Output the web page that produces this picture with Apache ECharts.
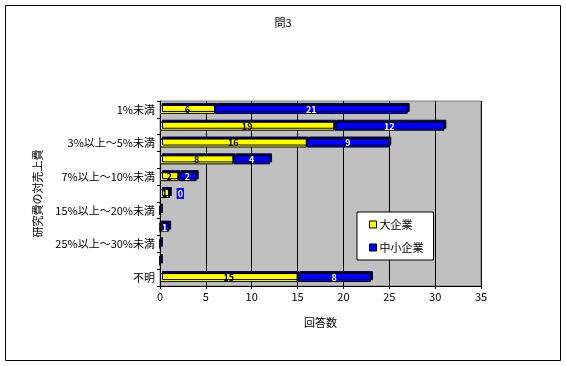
<!DOCTYPE html>
<html><head><meta charset="utf-8">
<script src="https://cdn.jsdelivr.net/npm/echarts@6/dist/echarts.min.js"></script>
<style>html,body{margin:0;padding:0;background:#fff}#c{width:566px;height:366px}</style>
</head><body><div id="c"></div>
<script>
var categories = ['1%未満','1%以上～3%未満','3%以上～5%未満','5%以上～7%未満','7%以上～10%未満','10%以上～15%未満','15%以上～20%未満','20%以上～25%未満','25%以上～30%未満','30%以上','不明'];
var largeCo = [6,19,16,8,2,1,0,0,0,0,15];
var smallCo = [21,12,9,4,2,0,0,1,0,0,8];
var seriesNames = ['大企業','中小企業'];
var titleText = '問3';
var xName = '回答数';
var yName = '研究費の対売上費';

var FONT = '"Noto Sans CJK JP", sans-serif';
var chart = echarts.init(document.getElementById('c'));
function lab(color){
  return {show:true, position:'inside', color:color, fontSize:9, fontWeight:'bold', fontFamily:FONT,
    formatter:function(p){return p.value>0?p.value:'';}};
}
var smallData = smallCo.map(function(v,i){
  if(v===0 && largeCo[i]>0){
    return {value:v, label:{show:true, position:'right', offset:[2,0], backgroundColor:'#0000ff', color:'#fff', padding:[1,1], formatter:'0'}};
  }
  return v;
});
chart.setOption({
  animation:false,
  title:{text:titleText, left:'center', top:12, textStyle:{fontSize:11, fontWeight:'normal', color:'#000', fontFamily:FONT}},
  graphic:[{type:'rect', shape:{x:5.5,y:5.5,width:555,height:355}, style:{fill:'none', stroke:'#000', lineWidth:1}}],
  grid:{left:160, right:85, top:101, bottom:80, show:true, backgroundColor:'#c0c0c0', borderColor:'#808080', borderWidth:1},
  legend:{orient:'vertical', left:357, top:212, width:83, height:51, padding:[7,10,7,12], itemGap:12,
    backgroundColor:'#fff', borderColor:'#000', borderWidth:1,
    itemWidth:7, itemHeight:7, icon:'rect', itemStyle:{borderColor:'#000', borderWidth:1},
    textStyle:{fontSize:11, color:'#000', fontFamily:FONT, padding:[0,0,0,-2]},
    data:seriesNames},
  xAxis:{type:'value', min:0, max:35, interval:5,
    name:xName, nameLocation:'middle', nameGap:31, nameTextStyle:{fontSize:11, color:'#000', fontFamily:FONT},
    axisLine:{show:true, lineStyle:{color:'#000'}}, axisTick:{show:true, length:3, lineStyle:{color:'#000'}},
    axisLabel:{fontSize:11, color:'#000', fontFamily:FONT, margin:5},
    splitLine:{show:true, lineStyle:{color:'#000', width:1}}},
  yAxis:{type:'category', data:categories, inverse:true,
    name:yName, nameLocation:'middle', nameGap:117, nameRotate:90, nameTextStyle:{fontSize:11, color:'#000', fontFamily:FONT},
    axisLine:{show:true, lineStyle:{color:'#000'}}, axisTick:{show:true, length:3, interval:0, lineStyle:{color:'#000'}},
    axisLabel:{interval:1, fontSize:11, color:'#000', fontFamily:FONT, margin:5}},
  series:[
    {name:seriesNames[0], type:'bar', stack:'a', data:largeCo, barWidth:9,
     itemStyle:{color:'#ffff00', borderColor:'#000', borderWidth:1, shadowColor:'#000040', shadowOffsetX:2, shadowOffsetY:-2, shadowBlur:0},
     label:lab('#000')},
    {name:seriesNames[1], type:'bar', stack:'a', data:smallData, barWidth:9,
     itemStyle:{color:'#0000ff', borderColor:'#000', borderWidth:1, shadowColor:'#000040', shadowOffsetX:2, shadowOffsetY:-2, shadowBlur:0},
     label:lab('#fff')}
  ]
});
</script></body></html>
